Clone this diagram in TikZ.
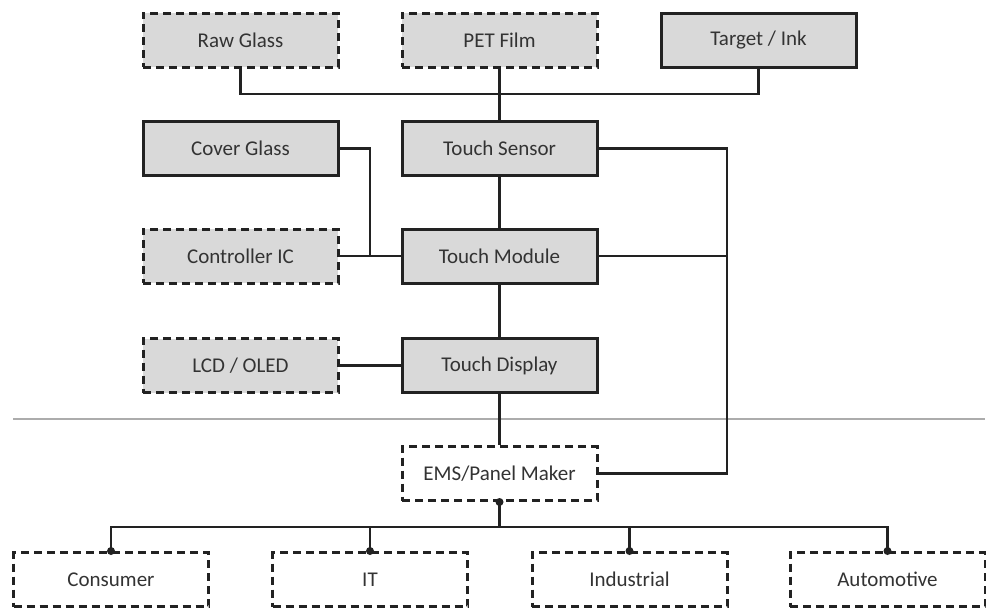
\documentclass[tikz,border=0pt]{standalone}
\usepackage{fontspec}
\setmainfont{Carlito}
\definecolor{boxfill}{HTML}{D9D9D9}
\definecolor{linec}{HTML}{222222}
\definecolor{textc}{HTML}{333333}
\begin{document}
\begin{tikzpicture}[x=1pt,y=-1pt,
  every node/.style={font=\fontsize{21}{24}\selectfont, text=textc},
  solidbox/.style={draw=linec, line width=3pt, fill=boxfill, minimum width=195pt, minimum height=54pt, inner sep=0pt},
  dashbox/.style={draw=linec, line width=3pt, fill=boxfill, dash pattern=on 8pt off 5pt, minimum width=195pt, minimum height=54pt, inner sep=0pt},
  whitebox/.style={dashbox, fill=white},
  conn/.style={draw=linec, line width=2.6pt},
  jdot/.style={circle, fill=linec, inner sep=0pt, minimum size=8pt}
]
\useasboundingbox (0,0) rectangle (986,608);
% top row
\node[dashbox]  (raw)  at (240.5,40) {Raw Glass};
\node[dashbox]  (pet)  at (499.5,40) {PET Film};
\node[solidbox] (tgt)  at (758.5,40) {Target / Ink};
% middle
\node[solidbox] (cover) at (240.5,148.5) {Cover Glass};
\node[solidbox] (sensor) at (499.5,148.5) {Touch Sensor};
\node[dashbox]  (ctrl) at (240.5,256) {Controller IC};
\node[solidbox] (module) at (499.5,256) {Touch Module};
\node[dashbox]  (lcd) at (240.5,365.5) {LCD / OLED};
\node[solidbox] (display) at (499.5,365.5) {Touch Display};
% divider
\draw[gray!65, line width=2pt] (13,419) -- (985,419);
% EMS
\node[whitebox] (ems) at (499.5,473.5) {EMS/Panel Maker};
% bottom
\node[whitebox] (cons) at (111,579.5) {Consumer};
\node[whitebox] (it)   at (370,579.5) {IT};
\node[whitebox] (ind)  at (629.5,579.5) {Industrial};
\node[whitebox] (auto) at (887.5,579.5) {Automotive};
% coordinates
\coordinate (bus1) at (0,94);
\coordinate (jL) at (370,256);
\coordinate (jR) at (727,256);
\coordinate (bus2) at (0,527);
% connectors
\draw[conn] (raw.south) |- (bus1 -| tgt.south) -- (tgt.south);
\draw[conn] (pet.south) -- (sensor.north);
\draw[conn] (cover.east) -| (jL) -- (module.west);
\draw[conn] (ctrl.east) -- (module.west);
\draw[conn] (sensor.south) -- (module.north);
\draw[conn] (module.south) -- (display.north);
\draw[conn] (lcd.east) -- (display.west);
\draw[conn] (display.south) -- (ems.north);
\draw[conn] (sensor.east) -| (jR) |- (ems.east);
\draw[conn] (module.east) -- (jR);
\draw[conn] (ems.south) -- (bus2 -| ems.south);
\draw[conn] (cons.north) |- (bus2 -| auto.north) -- (auto.north);
\draw[conn] (it.north) -- (bus2 -| it.north);
\draw[conn] (ind.north) -- (bus2 -| ind.north);
% dots
\node[jdot] (d0) at (ems.south) {};
\node[jdot] (d1) at (cons.north) {};
\node[jdot] (d2) at (it.north) {};
\node[jdot] (d3) at (ind.north) {};
\node[jdot] (d4) at (auto.north) {};
\end{tikzpicture}
\end{document}
